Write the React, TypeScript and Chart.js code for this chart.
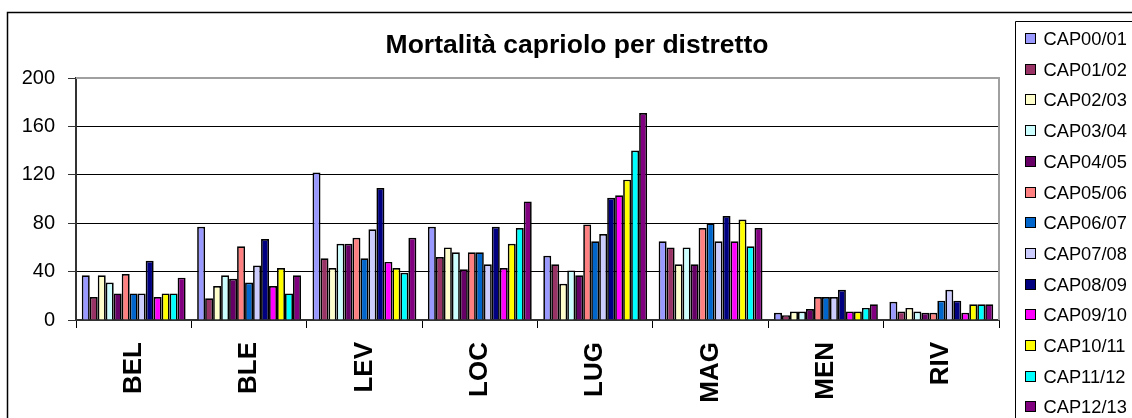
import React, { useEffect, useRef } from 'react';
import { Chart, registerables } from 'chart.js';

Chart.register(...registerables);

const districts = ['BEL', 'BLE', 'LEV', 'LOC', 'LUG', 'MAG', 'MEN', 'RIV'];
const seasonLabels = ['CAP00/01', 'CAP01/02', 'CAP02/03', 'CAP03/04', 'CAP04/05', 'CAP05/06', 'CAP06/07', 'CAP07/08', 'CAP08/09', 'CAP09/10', 'CAP10/11', 'CAP11/12', 'CAP12/13'];
const seasonColors = ['#9999FF', '#993366', '#FFFFCC', '#CCFFFF', '#660066', '#FF8080', '#0066CC', '#CCCCFF', '#000080', '#FF00FF', '#FFFF00', '#00FFFF', '#800080'];

const cap0001 = [37, 77, 122, 77, 53, 65, 6, 15];
const cap0102 = [19, 18, 51, 52, 46, 60, 4, 7];
const cap0203 = [37, 28, 43, 60, 30, 46, 7, 10];
const cap0304 = [31, 37, 63, 56, 41, 60, 7, 7];
const cap0405 = [22, 34, 63, 42, 37, 46, 9, 6];
const cap0506 = [38, 61, 68, 56, 79, 76, 19, 6];
const cap0607 = [22, 31, 51, 56, 65, 80, 19, 16];
const cap0708 = [22, 45, 75, 46, 71, 65, 19, 25];
const cap0809 = [49, 67, 109, 77, 101, 86, 25, 16];
const cap0910 = [19, 28, 48, 43, 103, 65, 7, 6];
const cap1011 = [22, 43, 43, 63, 116, 83, 7, 13];
const cap1112 = [22, 22, 39, 76, 140, 61, 10, 13];
const cap1213 = [35, 37, 68, 98, 171, 76, 13, 13];

const seriesValues = [cap0001, cap0102, cap0203, cap0304, cap0405, cap0506, cap0607, cap0708, cap0809, cap0910, cap1011, cap1112, cap1213];

const yMin = 0;
const yMax = 200;
const yStep = 40;

const titleText = 'Mortalità capriolo per distretto';
const FONT = "'Liberation Sans', Arial, sans-serif";

const framePlugin = {
  id: 'excelFrame',
  afterDraw(chart: any) {
    const ctx = chart.ctx;
    const a = chart.chartArea;
    ctx.save();
    // plot area border (top / right)
    ctx.strokeStyle = '#a0a0a0';
    ctx.lineWidth = 2;
    ctx.beginPath();
    ctx.moveTo(a.left, a.top);
    ctx.lineTo(a.right, a.top);
    ctx.lineTo(a.right, a.bottom);
    ctx.stroke();
    // outer chart border
    ctx.strokeStyle = '#000';
    ctx.lineWidth = 1.5;
    ctx.beginPath();
    ctx.moveTo(7.5, chart.height);
    ctx.lineTo(7.5, 12.5);
    ctx.lineTo(chart.width, 12.5);
    ctx.stroke();
    // legend box
    const lx = Math.round(a.right + 16) + 0.5;
    const ly = 21.5;
    ctx.lineWidth = 1;
    ctx.beginPath();
    ctx.moveTo(lx, chart.height);
    ctx.lineTo(lx, ly);
    ctx.lineTo(chart.width, ly);
    ctx.stroke();
    ctx.font = `18.3px ${FONT}`;
    ctx.textBaseline = 'middle';
    ctx.textAlign = 'left';
    chart.data.datasets.forEach((ds: any, i: number) => {
      const cy = Math.round(33 + i * 30.7) + 0.5;
      const sx = lx + 10;
      ctx.fillStyle = ds.backgroundColor;
      ctx.fillRect(sx, cy, 10, 10);
      ctx.strokeStyle = '#000';
      ctx.strokeRect(sx, cy, 10, 10);
      ctx.fillStyle = '#000';
      ctx.fillText(ds.label, lx + 28, cy + 6);
    });
    ctx.restore();
  },
};

export default function App() {
  const canvasRef = useRef<HTMLCanvasElement | null>(null);

  useEffect(() => {
    const canvas = canvasRef.current;
    if (!canvas) return;
    const chart = new Chart(canvas, {
      type: 'bar',
      data: {
        labels: districts,
        datasets: seriesValues.map((vals, i) => ({
          label: seasonLabels[i],
          data: vals,
          backgroundColor: seasonColors[i],
          borderColor: '#000',
          borderWidth: 1.7,
          categoryPercentage: 0.9,
          barPercentage: 1.0,
        })),
      },
      options: {
        responsive: false,
        animation: false,
        devicePixelRatio: 1,
        layout: { padding: { left: 22, right: 0, top: 0, bottom: 0 } },
        plugins: {
          legend: { display: false },
          tooltip: { enabled: false },
          title: {
            display: true,
            text: titleText,
            color: '#000',
            font: { family: FONT, size: 26.5, weight: 'bold' },
            padding: { top: 30.1, bottom: 16.1 },
          },
        },
        scales: {
          x: {
            grid: { drawOnChartArea: false, drawTicks: true, tickLength: 8, color: '#000', offset: true },
            border: { display: true, color: '#333', width: 2 },
            ticks: {
              minRotation: 90,
              maxRotation: 90,
              padding: 14,
              color: '#000',
              font: { family: FONT, size: 26, weight: 'bold' },
            },
            afterFit(scale: any) { scale.height = 98; },
          },
          y: {
            min: yMin,
            max: yMax,
            grid: { color: '#000', lineWidth: 1, tickLength: 8, tickColor: '#333' },
            border: { display: true, color: '#333', width: 2 },
            ticks: {
              stepSize: yStep,
              padding: 13,
              color: '#000',
              font: { family: FONT, size: 20 },
            },
            afterFit(scale: any) { scale.width = 54; },
          },
          yRightSpace: {
            type: 'linear',
            position: 'right',
            display: true,
            grid: { display: false, drawTicks: false },
            border: { display: false },
            ticks: { display: false },
            afterFit(scale: any) { scale.width = 133; },
          },
        },
      } as any,
      plugins: [framePlugin],
    });
    return () => chart.destroy();
  }, []);

  return (
    <div style={{ position: 'fixed', left: 0, top: 0, width: 1132, height: 418, background: '#fff' }}>
      <canvas ref={canvasRef} width={1132} height={418} style={{ width: 1132, height: 418, display: 'block' }} />
    </div>
  );
}
